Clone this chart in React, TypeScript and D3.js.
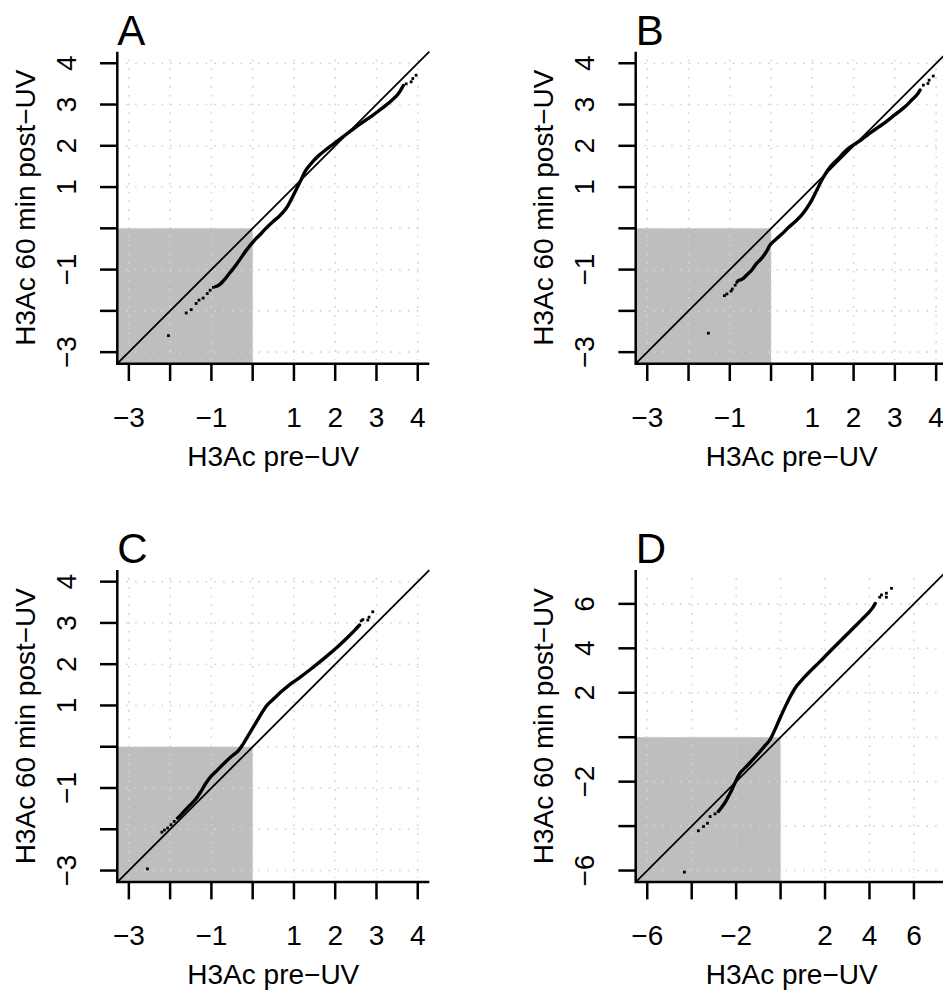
import React from "react";
import * as d3 from "d3";

type Pt = [number, number];

// Quantile pairs (H3Ac pre-UV, H3Ac 60 min post-UV): dense body and sparse tails
const curveA: Pt[] = [
  [-0.89, -1.41], [-0.81, -1.37], [-0.69, -1.25], [-0.57, -1.1], [-0.49, -1.0], [-0.4, -0.88],
  [-0.32, -0.77], [-0.16, -0.54], [-0.05, -0.4], [0.08, -0.25], [0.2, -0.13], [0.32, 0.0],
  [0.49, 0.16], [0.65, 0.3], [0.81, 0.48], [0.93, 0.69], [1.05, 0.93], [1.17, 1.17],
  [1.29, 1.41], [1.46, 1.62], [1.62, 1.78], [1.78, 1.91], [1.94, 2.03], [2.1, 2.15],
  [2.27, 2.28], [2.43, 2.4], [2.59, 2.52], [2.75, 2.63], [2.91, 2.74], [3.07, 2.86],
  [3.24, 2.99], [3.4, 3.13], [3.52, 3.25], [3.6, 3.37], [3.65, 3.46],
];
const tailA: Pt[] = [
  [-2.04, -2.6], [-1.61, -2.05], [-1.49, -1.97], [-1.37, -1.82], [-1.3, -1.74],
  [-1.2, -1.69], [-1.1, -1.58], [-1.03, -1.5], [-0.95, -1.43],
  [3.72, 3.5], [3.84, 3.55], [3.88, 3.63], [3.96, 3.71],
];

const curveB: Pt[] = [
  [-0.8, -1.27], [-0.67, -1.21], [-0.59, -1.13], [-0.47, -1.01], [-0.35, -0.85], [-0.23, -0.73],
  [-0.11, -0.56], [-0.02, -0.4], [0.1, -0.28], [0.26, -0.14], [0.42, 0.02], [0.58, 0.16],
  [0.74, 0.32], [0.86, 0.48], [0.99, 0.69], [1.11, 0.93], [1.23, 1.17], [1.35, 1.37],
  [1.47, 1.53], [1.63, 1.69], [1.79, 1.86], [1.95, 1.99], [2.12, 2.1], [2.28, 2.22],
  [2.44, 2.34], [2.6, 2.45], [2.76, 2.56], [2.92, 2.69], [3.09, 2.82], [3.25, 2.95],
  [3.41, 3.11], [3.53, 3.23], [3.61, 3.35],
];
const tailB: Pt[] = [
  [-1.52, -2.54], [-1.13, -1.63], [-1.07, -1.59], [-0.97, -1.52], [-0.94, -1.47],
  [-0.87, -1.38], [-0.83, -1.31],
  [3.69, 3.47], [3.8, 3.51], [3.83, 3.59], [3.93, 3.69],
];

const curveC: Pt[] = [
  [-1.82, -1.73], [-1.74, -1.65], [-1.62, -1.52], [-1.5, -1.4], [-1.38, -1.27], [-1.25, -1.08],
  [-1.13, -0.88], [-1.01, -0.72], [-0.85, -0.56], [-0.69, -0.4], [-0.53, -0.25], [-0.36, -0.11],
  [-0.24, 0.05], [-0.12, 0.25], [0.0, 0.45], [0.12, 0.65], [0.24, 0.85], [0.36, 1.02],
  [0.53, 1.18], [0.69, 1.33], [0.89, 1.5], [1.13, 1.67], [1.38, 1.86], [1.62, 2.05],
  [1.86, 2.25], [2.1, 2.46], [2.31, 2.66], [2.47, 2.82], [2.59, 2.95],
];
const tailC: Pt[] = [
  [-2.55, -2.96], [-2.2, -2.07], [-2.14, -2.02], [-2.06, -1.97], [-1.98, -1.89], [-1.9, -1.81],
  [2.63, 3.05], [2.67, 3.08], [2.79, 3.07], [2.82, 3.14], [2.91, 3.27],
];

const curveD: Pt[] = [
  [-2.8, -3.34], [-2.65, -3.15], [-2.57, -3.04], [-2.45, -2.85], [-2.35, -2.67], [-2.22, -2.42],
  [-2.13, -2.22], [-1.98, -1.9], [-1.83, -1.62], [-1.6, -1.38], [-1.38, -1.15], [-1.15, -0.9],
  [-0.93, -0.65], [-0.7, -0.38], [-0.48, -0.12], [-0.26, 0.33], [-0.03, 0.85], [0.27, 1.5],
  [0.5, 1.95], [0.72, 2.3], [1.02, 2.65], [1.39, 3.03], [1.77, 3.4], [2.14, 3.78],
  [2.51, 4.15], [2.89, 4.53], [3.26, 4.9], [3.64, 5.28], [3.94, 5.58], [4.14, 5.82], [4.26, 6.02],
];
const tailD: Pt[] = [
  [-4.33, -6.07], [-3.7, -4.21], [-3.47, -4.02], [-3.29, -3.87], [-3.17, -3.57], [-2.95, -3.45],
  [4.46, 6.3], [4.54, 6.4], [4.76, 6.3], [4.76, 6.48], [4.99, 6.7],
];

// Axis ticks and the labels R kept after dropping overlapping ones
const ticksNarrow = [-3, -2, -1, 0, 1, 2, 3, 4];
const labelsNarrow = ["−3", "", "−1", "", "1", "2", "3", "4"];
const ticksWide = [-6, -4, -2, 0, 2, 4, 6];
const labelsWide = ["−6", "", "−2", "", "2", "4", "6"];
const limitsNarrow: Pt = [-3, 4];
const limitsWide: Pt = [-6, 7];

const panelLetters = ["A", "B", "C", "D"];
const xTitle = "H3Ac pre−UV";
const yTitle = "H3Ac 60 min post−UV";

// Layout
const PLOT = 312;
const ORIGIN_X = 117.3;
const ORIGIN_Y = 51.7;
const PITCH = 518.4;
const TICK = 17.3;
const FONT = "'Liberation Sans', Arial, Helvetica, sans-serif";

type PanelProps = {
  letter: string;
  col: number;
  row: number;
  limits: Pt;
  ticks: number[];
  labels: string[];
  curve: Pt[];
  tail: Pt[];
};

function Panel({ letter, col, row, limits, ticks, labels, curve, tail }: PanelProps) {
  const left = ORIGIN_X + col * PITCH;
  const top = ORIGIN_Y + row * PITCH;
  const right = left + PLOT;
  const bottom = top + PLOT;
  const span = limits[1] - limits[0];
  const dom: Pt = [limits[0] - 0.04 * span, limits[1] + 0.04 * span];
  const x = d3.scaleLinear().domain(dom).range([left, right]);
  const y = d3.scaleLinear().domain(dom).range([bottom, top]);
  const line = d3
    .line<Pt>()
    .x((d) => x(d[0]))
    .y((d) => y(d[1]))
    .curve(d3.curveCatmullRom);
  const gridStyle = {
    stroke: "#d3d3d3",
    strokeWidth: 1.6,
    strokeDasharray: "1.6 7.2",
  };
  const dot = 2.8;

  return (
    <g>
      <rect x={left} y={y(0)} width={x(0) - left} height={bottom - y(0)} fill="#bebebe" />
      {ticks.map((t) => (
        <g key={"g" + t}>
          <line x1={left + 9} x2={right - 4} y1={y(t)} y2={y(t)} style={gridStyle} />
          <line x1={x(t)} x2={x(t)} y1={top + 8} y2={bottom - 4} style={gridStyle} />
        </g>
      ))}
      <path
        d={line(curve) || ""}
        fill="none"
        stroke="#000"
        strokeWidth={3.4}
        strokeLinecap="round"
        strokeLinejoin="round"
      />
      {tail.map((d, i) => (
        <rect
          key={"t" + i}
          x={x(d[0]) - dot / 2}
          y={y(d[1]) - dot / 2}
          width={dot}
          height={dot}
          fill="#000"
        />
      ))}
      <line x1={x(dom[0])} y1={y(dom[0])} x2={x(dom[1])} y2={y(dom[1])} stroke="#000" strokeWidth={1.8} />
      <path d={`M${left},${top}V${bottom}H${right}`} fill="none" stroke="#000" strokeWidth={2.5} />
      {ticks.map((t, i) => (
        <g key={"k" + t}>
          <line x1={left - TICK} x2={left} y1={y(t)} y2={y(t)} stroke="#000" strokeWidth={2.5} />
          <line x1={x(t)} x2={x(t)} y1={bottom} y2={bottom + TICK} stroke="#000" strokeWidth={2.5} />
          {labels[i] && (
            <text x={x(t)} y={bottom + 63} textAnchor="middle" fontSize={28}>
              {labels[i]}
            </text>
          )}
          {labels[i] && (
            <text
              transform={`translate(${left - 41.5},${y(t)}) rotate(-90)`}
              textAnchor="middle"
              fontSize={28}
            >
              {labels[i]}
            </text>
          )}
        </g>
      ))}
      <text x={(left + right) / 2} y={bottom + 102} textAnchor="middle" fontSize={28}>
        {xTitle}
      </text>
      <text
        transform={`translate(${left - 82.3},${(top + bottom) / 2}) rotate(-90)`}
        textAnchor="middle"
        fontSize={28}
      >
        {yTitle}
      </text>
      <text x={left} y={top - 6.7} fontSize={42}>
        {letter}
      </text>
    </g>
  );
}

const panelCurves = [curveA, curveB, curveC, curveD];
const panelTails = [tailA, tailB, tailC, tailD];

export default function App() {
  return (
    <svg
      width={943}
      height={993}
      style={{ position: "absolute", left: 0, top: 0, background: "#fff" }}
      fontFamily={FONT}
    >
      {panelLetters.map((letter, i) => {
        const wide = letter === "D";
        return (
          <Panel
            key={letter}
            letter={letter}
            col={i % 2}
            row={Math.floor(i / 2)}
            limits={wide ? limitsWide : limitsNarrow}
            ticks={wide ? ticksWide : ticksNarrow}
            labels={wide ? labelsWide : labelsNarrow}
            curve={panelCurves[i]}
            tail={panelTails[i]}
          />
        );
      })}
    </svg>
  );
}
